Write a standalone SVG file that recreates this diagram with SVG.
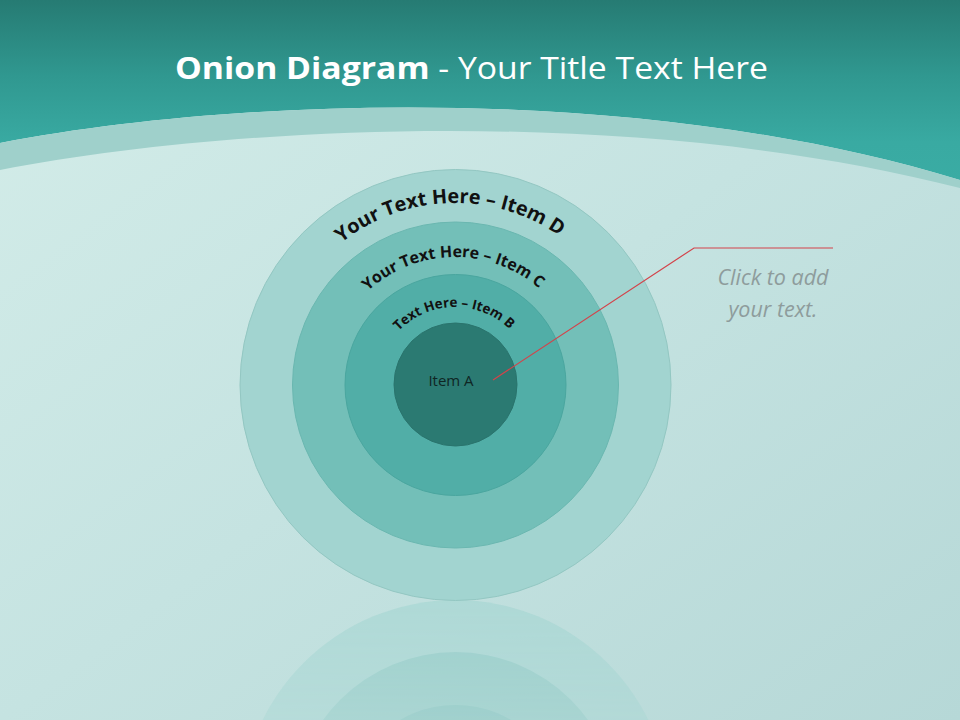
<svg xmlns="http://www.w3.org/2000/svg" width="960" height="720" viewBox="0 0 960 720">
  <defs>
    <linearGradient id="bg" x1="0" y1="0" x2="1" y2="1">
      <stop offset="0" stop-color="#d4ede9"/>
      <stop offset="0.5" stop-color="#c5e3e1"/>
      <stop offset="1" stop-color="#b6d8d7"/>
    </linearGradient>
    <linearGradient id="top" x1="0" y1="0" x2="0" y2="190" gradientUnits="userSpaceOnUse">
      <stop offset="0" stop-color="#267b73"/>
      <stop offset="0.4" stop-color="#309890"/>
      <stop offset="0.75" stop-color="#39aaa2"/>
      <stop offset="1" stop-color="#3aaca4"/>
    </linearGradient>
    <linearGradient id="fade" x1="0" y1="600" x2="0" y2="720" gradientUnits="userSpaceOnUse">
      <stop offset="0" stop-color="#fff" stop-opacity="0.55"/>
      <stop offset="1" stop-color="#fff" stop-opacity="0.3"/>
    </linearGradient>
    <mask id="reflMask" maskUnits="userSpaceOnUse" x="0" y="600" width="960" height="120">
      <rect x="0" y="600" width="960" height="120" fill="url(#fade)"/>
    </mask>
    <path id="arcD" d="M 273 385 A 182 182 0 0 1 637 385"/>
    <path id="arcC" d="M 327 385 A 128 128 0 0 1 583 385"/>
    <path id="arcB" d="M 377 385 A 78 78 0 0 1 533 385"/>
  </defs>
  <style>
    .ring { stroke-width: 1; }
    .arc { font-family: "Open Sans", "Noto Sans", sans-serif; font-weight: bold; fill: #111; }
    .title { font-family: "Open Sans", "Noto Sans", sans-serif; fill: #ffffff; font-size: 31px; }
    .hint { font-family: "Open Sans", "Noto Sans", sans-serif; font-style: italic; fill: #8e9c9c; font-size: 21.5px; }
    .callout { stroke: #d3434a; stroke-width: 1.2; fill: none; }
  </style>

  <!-- background -->
  <rect x="0" y="0" width="960" height="720" fill="url(#bg)"/>
  <path d="M 0 0 L 960 0 L 960 190 L 960 180 C 650 85 250 95 0 143 Z" fill="url(#top)"/>
  <path d="M 0 143 C 250 95 650 85 960 180 L 960 188 C 650 108 250 122 0 170 Z" fill="#9fd0cb"/>

  <!-- title -->
  <text class="title" x="175" y="79" textLength="593" lengthAdjust="spacingAndGlyphs"><tspan font-weight="bold">Onion Diagram</tspan> - Your Title Text Here</text>

  <!-- reflection -->
  <g id="reflection" mask="url(#reflMask)">
    <circle cx="455.5" cy="815" r="215" fill="#a0d4d0"/>
    <circle cx="455.5" cy="815" r="163" fill="#7cc2bc"/>
    <circle cx="455.5" cy="815" r="110" fill="#5fb3ad"/>
  </g>

  <!-- onion rings -->
  <g id="node-D">
    <circle class="ring" cx="455.5" cy="385" r="215.5" fill="#a2d4d0" stroke="#93c7c2"/>
    <text class="arc" font-size="19.8"><textPath href="#arcD" startOffset="49%" text-anchor="middle">Your Text Here – Item D</textPath></text>
  </g>
  <g id="node-C">
    <circle class="ring" cx="455.5" cy="385" r="163" fill="#73bfb8" stroke="#6ab7b0"/>
    <text class="arc" font-size="16"><textPath href="#arcC" startOffset="49.5%" text-anchor="middle">Your Text Here – Item C</textPath></text>
  </g>
  <g id="node-B">
    <circle class="ring" cx="455.5" cy="385" r="110.5" fill="#51aea7" stroke="#4aa69f"/>
    <text class="arc" font-size="13.5"><textPath href="#arcB" startOffset="49.5%" text-anchor="middle">Text Here – Item B</textPath></text>
  </g>
  <g id="node-A">
    <circle class="ring" cx="455.5" cy="384.5" r="61.5" fill="#2b7a72" stroke="#2a746d"/>
    <text x="451" y="386" font-family="'Open Sans', 'Noto Sans', sans-serif" font-size="15" fill="#0f2624" text-anchor="middle">Item A</text>
  </g>

  <!-- connectors -->
  <g id="connectors">
    <polyline class="callout" points="493,380 694,248 833,248"/>
  </g>

  <!-- callout text -->
  <g id="note">
    <text class="hint" x="773" y="285" text-anchor="middle">Click  to add</text>
    <text class="hint" x="773" y="317" text-anchor="middle">your text.</text>
  </g>
</svg>
